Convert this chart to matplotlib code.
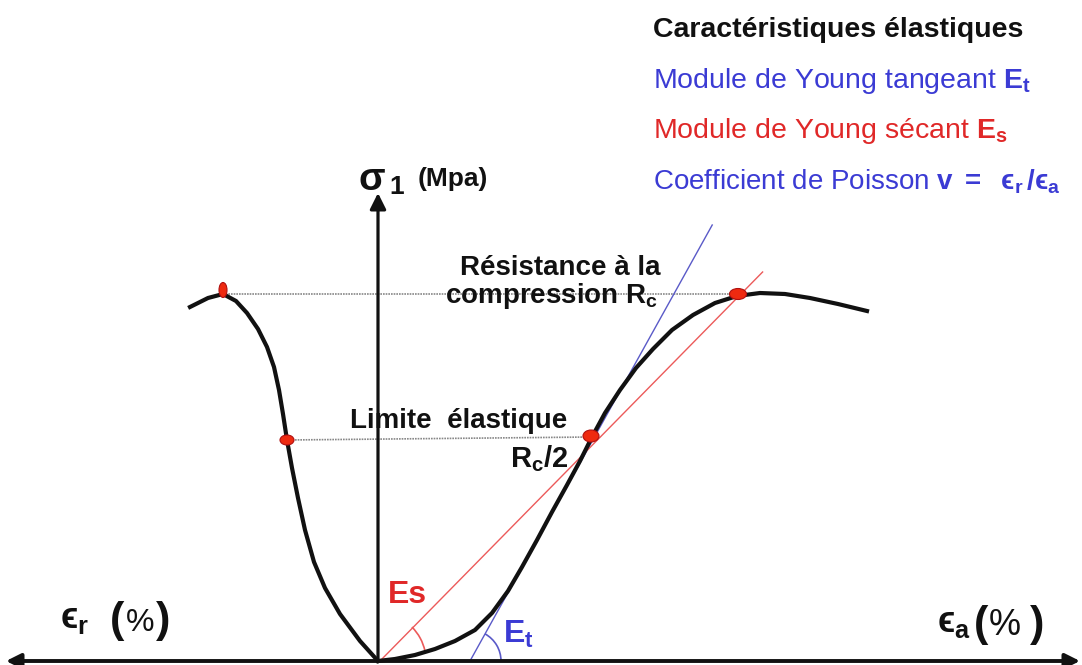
import numpy as np
import matplotlib.pyplot as plt
from matplotlib.patches import Ellipse, Arc

plt.rcParams['font.family'] = ['Liberation Sans', 'DejaVu Sans']
plt.rcParams['mathtext.fontset'] = 'custom'
plt.rcParams['mathtext.rm'] = 'Liberation Sans'
plt.rcParams['mathtext.bf'] = 'Liberation Sans:bold'
plt.rcParams['mathtext.it'] = 'Liberation Sans:italic'
plt.rcParams['mathtext.fallback'] = 'stixsans'

# courbe axiale (eps_a, sigma_1) - unites du schema
ea = [0, 17, 37, 57, 77, 97, 114, 130, 144, 159, 174, 189, 202, 214, 227, 242,
      258, 275, 294, 315, 337, 359, 382, 407, 432, 460, 489]
sig_a = [0, 2, 6, 12, 20, 31, 48, 70, 94, 121, 149, 176, 200, 224, 248, 271,
         293, 312, 331, 346, 358, 365, 368, 367, 363, 357, 350]

# courbe radiale (eps_r, sigma_1)
er = [0, -18, -38, -53, -64, -73, -80, -86, -91, -95, -99, -104, -111, -120,
      -131, -142, -155, -170, -188]
sig_r = [0, 20, 47, 73, 99, 131, 163, 193, 221, 247, 271, 294, 314, 332,
         348, 360, 367, 363, 354]

# points remarquables
rc_pts_x = [-155, 359]      # resistance a la compression
rc_pts_y = [367, 367]
rc2_pts_x = [-91, 214]      # limite elastique Rc/2
rc2_pts_y = [221, 224]

# tangente (Et) et secante (Es)
et_x0, et_slope, et_top = 92, 1.80, 436
es_slope, es_top = 365 / 359, 389

black = '#111111'
blue = '#3b3bd4'
red = '#e02828'
blue_line = '#5a5ac8'
red_line = '#ec5a5a'

fig = plt.figure(figsize=(10.82, 6.65), dpi=100)
ax = fig.add_axes([0, 0, 1, 1])
ax.set_xlim(-378, 704)
ax.set_ylim(-4, 661)
ax.axis('off')

# axes
ax.annotate('', xy=(702, 0), xytext=(-372, 0),
            arrowprops=dict(arrowstyle='<|-|>', lw=2.8, color=black,
                            mutation_scale=22, shrinkA=0, shrinkB=0), zorder=5)
ax.annotate('', xy=(0, 468), xytext=(0, 0),
            arrowprops=dict(arrowstyle='-|>', lw=2.3, color=black,
                            mutation_scale=24, shrinkA=0, shrinkB=0), zorder=5)

# lignes de niveau
ax.plot([rc_pts_x[0], rc_pts_x[1]], [rc_pts_y[0], rc_pts_y[1]],
        color='#888888', lw=1.2, ls=(0, (1, 0.6)), zorder=2)
ax.plot([rc2_pts_x[0], rc2_pts_x[1]], [rc2_pts_y[0], rc2_pts_y[1]],
        color='#888888', lw=1.2, ls=(0, (1, 0.6)), zorder=2)

# tangente et secante
ax.plot([et_x0, et_x0 + et_top / et_slope], [0, et_top], color=blue_line, lw=1.0, zorder=3)
ax.plot([2, 2 + es_top / es_slope], [0, es_top], color=red_line, lw=1.0, zorder=3)
ax.add_patch(Arc((0, 0), 96, 96, theta1=12, theta2=45, color=red_line, lw=1.2, zorder=3))
ax.add_patch(Arc((et_x0, 0), 62, 62, theta1=0, theta2=61, color=blue_line, lw=1.2, zorder=3))

# courbes
ax.plot(ea, sig_a, color=black, lw=3.0, solid_joinstyle='round', zorder=4)
ax.plot(er, sig_r, color=black, lw=3.0, solid_joinstyle='round', zorder=4)

# points rouges
dot_kw = dict(facecolor='#ee2a10', edgecolor='#b01010', lw=0.8, zorder=6)
ax.add_patch(Ellipse((rc_pts_x[0], rc_pts_y[0] + 4), 8, 15, **dot_kw))
ax.add_patch(Ellipse((rc_pts_x[1] + 1, rc_pts_y[1]), 17, 11, **dot_kw))
ax.add_patch(Ellipse((rc2_pts_x[0], rc2_pts_y[0]), 14, 10, **dot_kw))
ax.add_patch(Ellipse((rc2_pts_x[1] - 1, rc2_pts_y[1] + 1), 16, 12, **dot_kw))

# labels des axes
ax.text(-20, 471, r'$\mathbf{\sigma}$', fontsize=28, color=black)
ax.text(11, 467, '1', fontsize=19, fontweight='bold', color=black)
ax.text(40, 475, '(Mpa)', fontsize=19, fontweight='bold', color=black)

ax.text(-318, 33, r'$\mathbf{ϵ_r}$', fontsize=26, color=black)
ax.text(-268, 29, '(', fontsize=31, fontweight='bold', color=black)
ax.text(-252, 30, '%', fontsize=23, color=black)
ax.text(-222, 29, ')', fontsize=31, fontweight='bold', color=black)

ax.text(559, 29, r'$\mathbf{ϵ_a}$', fontsize=26, color=black)
ax.text(596, 25, '(', fontsize=31, fontweight='bold', color=black)
ax.text(611, 26, '%', fontsize=26, color=black)
ax.text(652, 25, ')', fontsize=31, fontweight='bold', color=black)

# annotations du schema
ax.text(82, 386, 'Résistance à la', fontsize=20, fontweight='bold', color=black)
ax.text(67, 358, r'compression $\mathbf{R_c}$', fontsize=20, fontweight='bold', color=black)
ax.text(-28, 233, 'Limite  élastique', fontsize=20, fontweight='bold', color=black, zorder=1)
ax.text(132, 194, r'$\mathbf{R_c/2}$', fontsize=21, color=black)
ax.text(10, 58, 'Es', fontsize=23, fontweight='bold', color=red)
ax.text(125, 18, r'$\mathbf{E_t}$', fontsize=23, color=blue)

# legende
ax.text(275, 624, 'Caractéristiques élastiques', fontsize=20.5, fontweight='bold', color=black)
ax.text(275, 573, r'Module de Young tangeant $\mathbf{E_t}$', fontsize=20.5, color=blue)
ax.text(275, 523, r'Module de Young sécant $\mathbf{E_s}$', fontsize=20.5, color=red)
ax.text(275, 471, r'Coefficient de Poisson $\mathbf{v\ =\ \ ϵ_r\,/ϵ_a}$',
        fontsize=20, color=blue)

fig.savefig('out.png', dpi=100, facecolor='white')
